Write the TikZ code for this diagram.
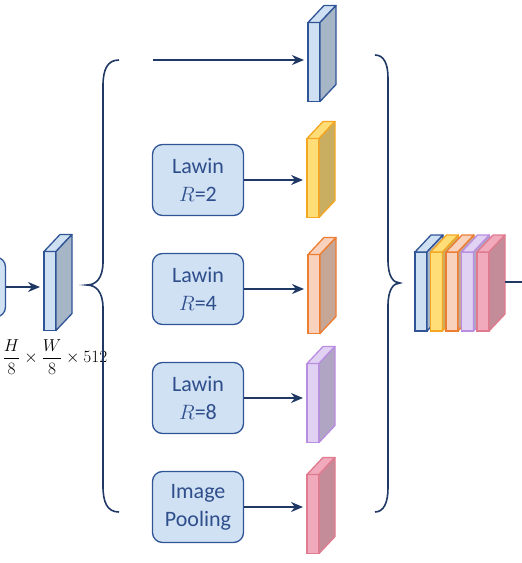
\documentclass[tikz,border=0pt]{standalone}
\usepackage{fontspec}
\setmainfont{Carlito}
\usepackage{amsmath}
\usepackage{xcolor}
\usepackage{tikz}
\usetikzlibrary{positioning,arrows.meta}

\definecolor{navy}{HTML}{1F3864}
\definecolor{boxfill}{HTML}{D0E1F3}
\definecolor{boxline}{HTML}{2F5597}
\definecolor{boxtext}{HTML}{2F4E8C}
\definecolor{blueFront}{HTML}{CFE0F2}
\definecolor{blueSide}{HTML}{A7B6C6}
\definecolor{blueLine}{HTML}{2F5597}
\definecolor{goldFront}{HTML}{FFDD77}
\definecolor{goldSide}{HTML}{C9AE62}
\definecolor{goldLine}{HTML}{F5A623}
\definecolor{peachFront}{HTML}{F8D2BC}
\definecolor{peachSide}{HTML}{C6A796}
\definecolor{peachLine}{HTML}{ED7D31}
\definecolor{lilacFront}{HTML}{E1D1F3}
\definecolor{lilacSide}{HTML}{B0A6C4}
\definecolor{lilacLine}{HTML}{B98DE0}
\definecolor{roseFront}{HTML}{F0AABB}
\definecolor{roseSide}{HTML}{C48C99}
\definecolor{roseLine}{HTML}{E07A8E}

% feature map: name, position, colour
\newcommand{\featmap}[3]{%
  \node[fmap, fill=#3Front, draw=#3Line] (#1) at (#2) {};
  \draw[fill=#3Front, draw=#3Line, line width=1.3pt, line join=round] (#1.north west) -- ++(16,17) -- ++(12,0) -- (#1.north east) -- cycle;
  \draw[fill=#3Side, draw=#3Line, line width=1.3pt, line join=round] (#1.north east) -- ++(16,17) -- ++(0,-79) -- (#1.south east) -- cycle;
}

\begin{document}
\begin{tikzpicture}[x=1pt, y=1pt, node distance=109pt,
    lawin/.style={draw=boxline, fill=boxfill, text=boxtext, rounded corners=10pt, line width=1.3pt, minimum width=91pt, minimum height=71pt, align=center, font=\fontsize{22}{28}\selectfont},
    fmap/.style={rectangle, minimum width=12pt, minimum height=79pt, inner sep=0pt, outer sep=0pt, line width=1.3pt},
    conn/.style={navy, line width=1.6pt, shorten >=4pt, -{Stealth[length=12pt,width=10pt]}},
    brace/.style={navy, line width=1.6pt}]
    \useasboundingbox (0,0) rectangle (522,-563);

    % input
    \node[lawin, minimum height=60pt] (prev) at (-40,-287) {};
    \featmap{mapIn}{50,-291}{blue}
    \draw[conn] (prev.east) -- (prev.east -| mapIn.west);
    \node[font=\fontsize{16}{19}\selectfont, inner sep=0pt] (dims) at (55,-357) {$\dfrac{H}{8}\times\dfrac{W}{8}\times 512$};

    \draw[brace] (119,-60) .. controls (107,-60) and (103,-70) .. (103,-86)
        -- (103,-262) .. controls (103,-278) and (96,-285) .. (87,-285)
        .. controls (96,-285) and (103,-292) .. (103,-308)
        -- (103,-486) .. controls (103,-502) and (107,-512) .. (119,-512);

    % branches
    \coordinate (skip) at (153,-60);
    \featmap{mapA}{314,-62}{blue}
    \draw[conn] (skip) -- (skip -| mapA.west);

    \node[lawin] (lawinA) at (198,-180) {Lawin\\$R$=2};
    \node[lawin, below of=lawinA] (lawinB) {Lawin\\$R$=4};
    \node[lawin, below of=lawinB] (lawinC) {Lawin\\$R$=8};
    \node[lawin, below of=lawinC] (pool) {Image\\Pooling};

    \featmap{mapB}{313,-178}{gold}
    \featmap{mapC}{314,-294}{peach}
    \featmap{mapD}{313,-403}{lilac}
    \featmap{mapE}{313,-514}{rose}
    \draw[conn] (lawinA.east) -- (lawinA.east -| mapB.west);
    \draw[conn] (lawinB.east) -- (lawinB.east -| mapC.west);
    \draw[conn] (lawinC.east) -- (lawinC.east -| mapD.west);
    \draw[conn] (pool.east) -- (pool.east -| mapE.west);

    \draw[brace] (375,-55) .. controls (384,-55) and (388,-64) .. (388,-78)
        -- (388,-260) .. controls (388,-276) and (393,-283) .. (400,-283)
        .. controls (393,-283) and (388,-290) .. (388,-306)
        -- (388,-488) .. controls (388,-502) and (384,-512) .. (375,-512);

    % concat
    \featmap{catA}{421,-291.5}{blue}
    \featmap{catB}{436.5,-291.5}{gold}
    \featmap{catC}{452,-291.5}{peach}
    \featmap{catD}{467.5,-291.5}{lilac}
    \featmap{catE}{483,-291.5}{rose}
    \coordinate (outstart) at ([xshift=16pt,yshift=9.5pt]catE.east);
    \coordinate (outend) at (522,-282);
    \draw[brace] (outstart) -- (outend);
\end{tikzpicture}
\end{document}
